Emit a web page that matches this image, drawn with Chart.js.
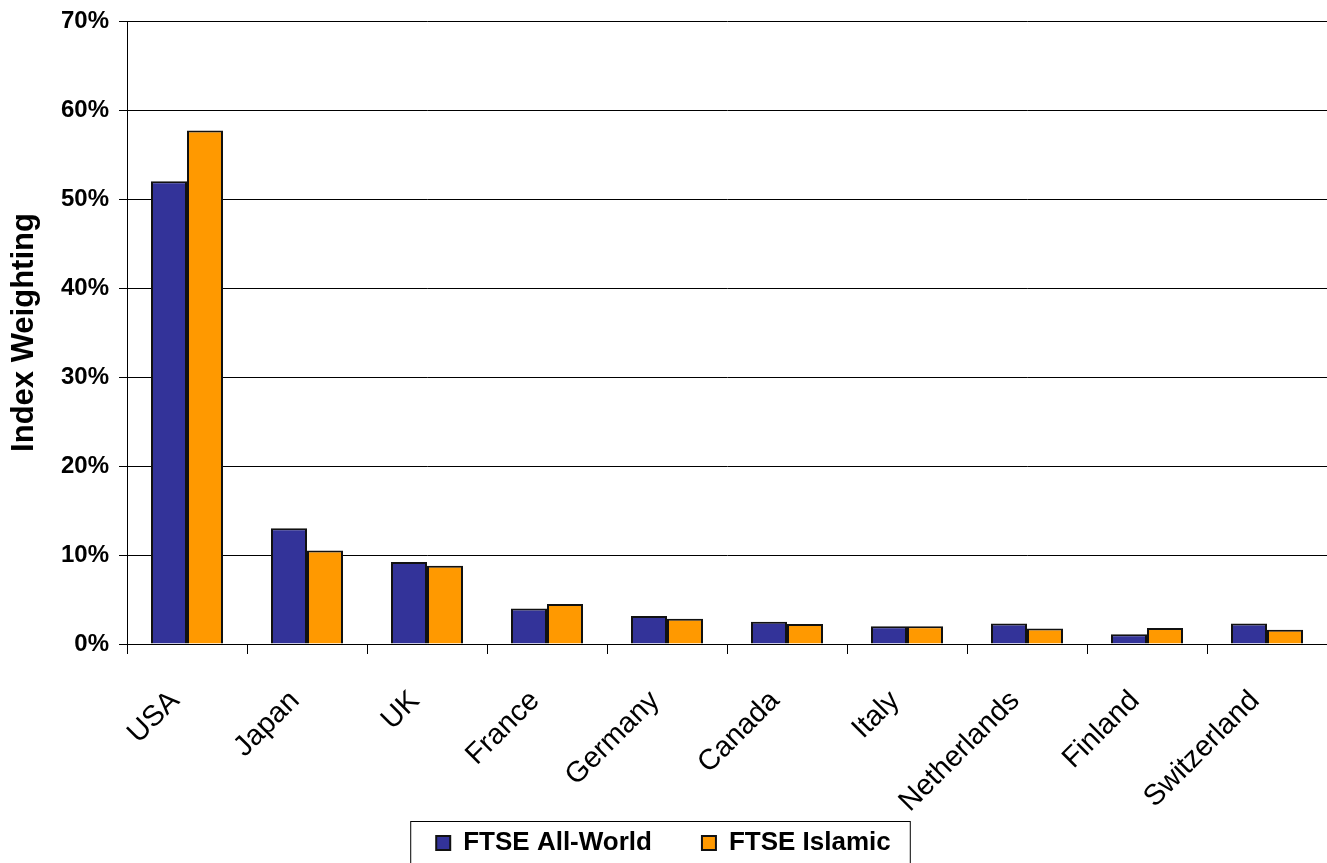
<!DOCTYPE html>
<html>
<head>
<meta charset="utf-8">
<script src="https://cdn.jsdelivr.net/npm/chart.js@4"></script>
<style>
  html, body { margin: 0; padding: 0; background: #fff; }
  #chart { display: block; }
</style>
</head>
<body>
<canvas id="chart" width="1327" height="863"></canvas>
<script>
const countries = ['USA', 'Japan', 'UK', 'France', 'Germany', 'Canada', 'Italy', 'Netherlands', 'Finland', 'Switzerland']
const allWorld = [52.0, 13.0, 9.2, 4.0, 3.15, 2.5, 2.0, 2.3, 1.1, 2.3]
const islamic = [57.7, 10.5, 8.8, 4.5, 2.85, 2.25, 2.0, 1.75, 1.8, 1.6]
const yTicks = [0, 10, 20, 30, 40, 50, 60, 70]

const FONT = "'Liberation Sans', Arial, sans-serif"

// the rotated country names hang down past the x scale box, so don't clip them
const unclipLabels = {
  id: 'unclipLabels',
  afterLayout(chart) {
    chart.scales.x.bottom = chart.height
  }
}

// box round the legend, like the original
const legendBorder = {
  id: 'legendBorder',
  afterDraw(chart) {
    const boxes = chart.legend && chart.legend.legendHitBoxes
    if (!boxes || !boxes.length) return
    const left = Math.min(...boxes.map(b => b.left)) - 26
    const right = Math.max(...boxes.map(b => b.left + b.width)) + 19
    const top = boxes[0].top - 9
    const ctx = chart.ctx
    ctx.save()
    ctx.strokeStyle = '#000'
    ctx.lineWidth = 1
    ctx.strokeRect(left + 0.5, top + 0.5, right - left, chart.height - top + 5)
    ctx.restore()
  }
}

const ctx = document.getElementById('chart')
const chart = new Chart(ctx, {
  type: 'bar',
  data: {
    labels: countries,
    datasets: [
      {
        label: 'FTSE All-World',
        data: allWorld,
        backgroundColor: '#333399',
        borderColor: '#111',
        borderWidth: 2,
      },
      {
        label: 'FTSE Islamic',
        data: islamic,
        backgroundColor: '#FF9900',
        borderColor: '#111',
        borderWidth: 2,
      },
    ],
  },
  options: {
    responsive: false,
    animation: false,
    layout: { padding: { left: 0, right: 0, top: 21, bottom: -3 } },
    datasets: {
      bar: { categoryPercentage: 0.6, barPercentage: 1.0 },
    },
    scales: {
      x: {
        grid: {
          display: true,
          drawOnChartArea: false,
          color: '#000',
          tickLength: 10,
          offset: true,
        },
        border: { color: '#000', width: 1 },
        ticks: {
          minRotation: 45,
          maxRotation: 45,
          padding: 30,
          labelOffset: -12,
          color: '#000',
          font: { family: FONT, size: 29 },
        },
        afterFit: s => { s.height = 136 },
      },
      y: {
        min: 0,
        max: 70,
        afterBuildTicks: s => { s.ticks = yTicks.map(v => ({ value: v })) },
        grid: { color: '#000', lineWidth: 1, tickLength: 8 },
        border: { color: '#000', width: 1 },
        ticks: {
          padding: 10,
          color: '#000',
          font: { family: FONT, size: 24, weight: 'bold' },
          callback: v => v + '%',
        },
        title: {
          display: true,
          text: 'Index Weighting',
          color: '#000',
          padding: { top: 6, bottom: 0 },
          font: { family: FONT, size: 31, weight: 'bold' },
        },
        afterFit: s => {
          s.width = 127
          s.paddingTop = 0
          s.paddingBottom = 0
        },
      },
    },
    plugins: {
      legend: {
        position: 'bottom',
        labels: {
          boxWidth: 14,
          boxHeight: 14,
          padding: 50,
          color: '#000',
          font: { family: FONT, size: 26, weight: 'bold' },
        },
      },
      tooltip: { enabled: false },
    },
  },
  plugins: [unclipLabels, legendBorder],
})
</script>
</body>
</html>
